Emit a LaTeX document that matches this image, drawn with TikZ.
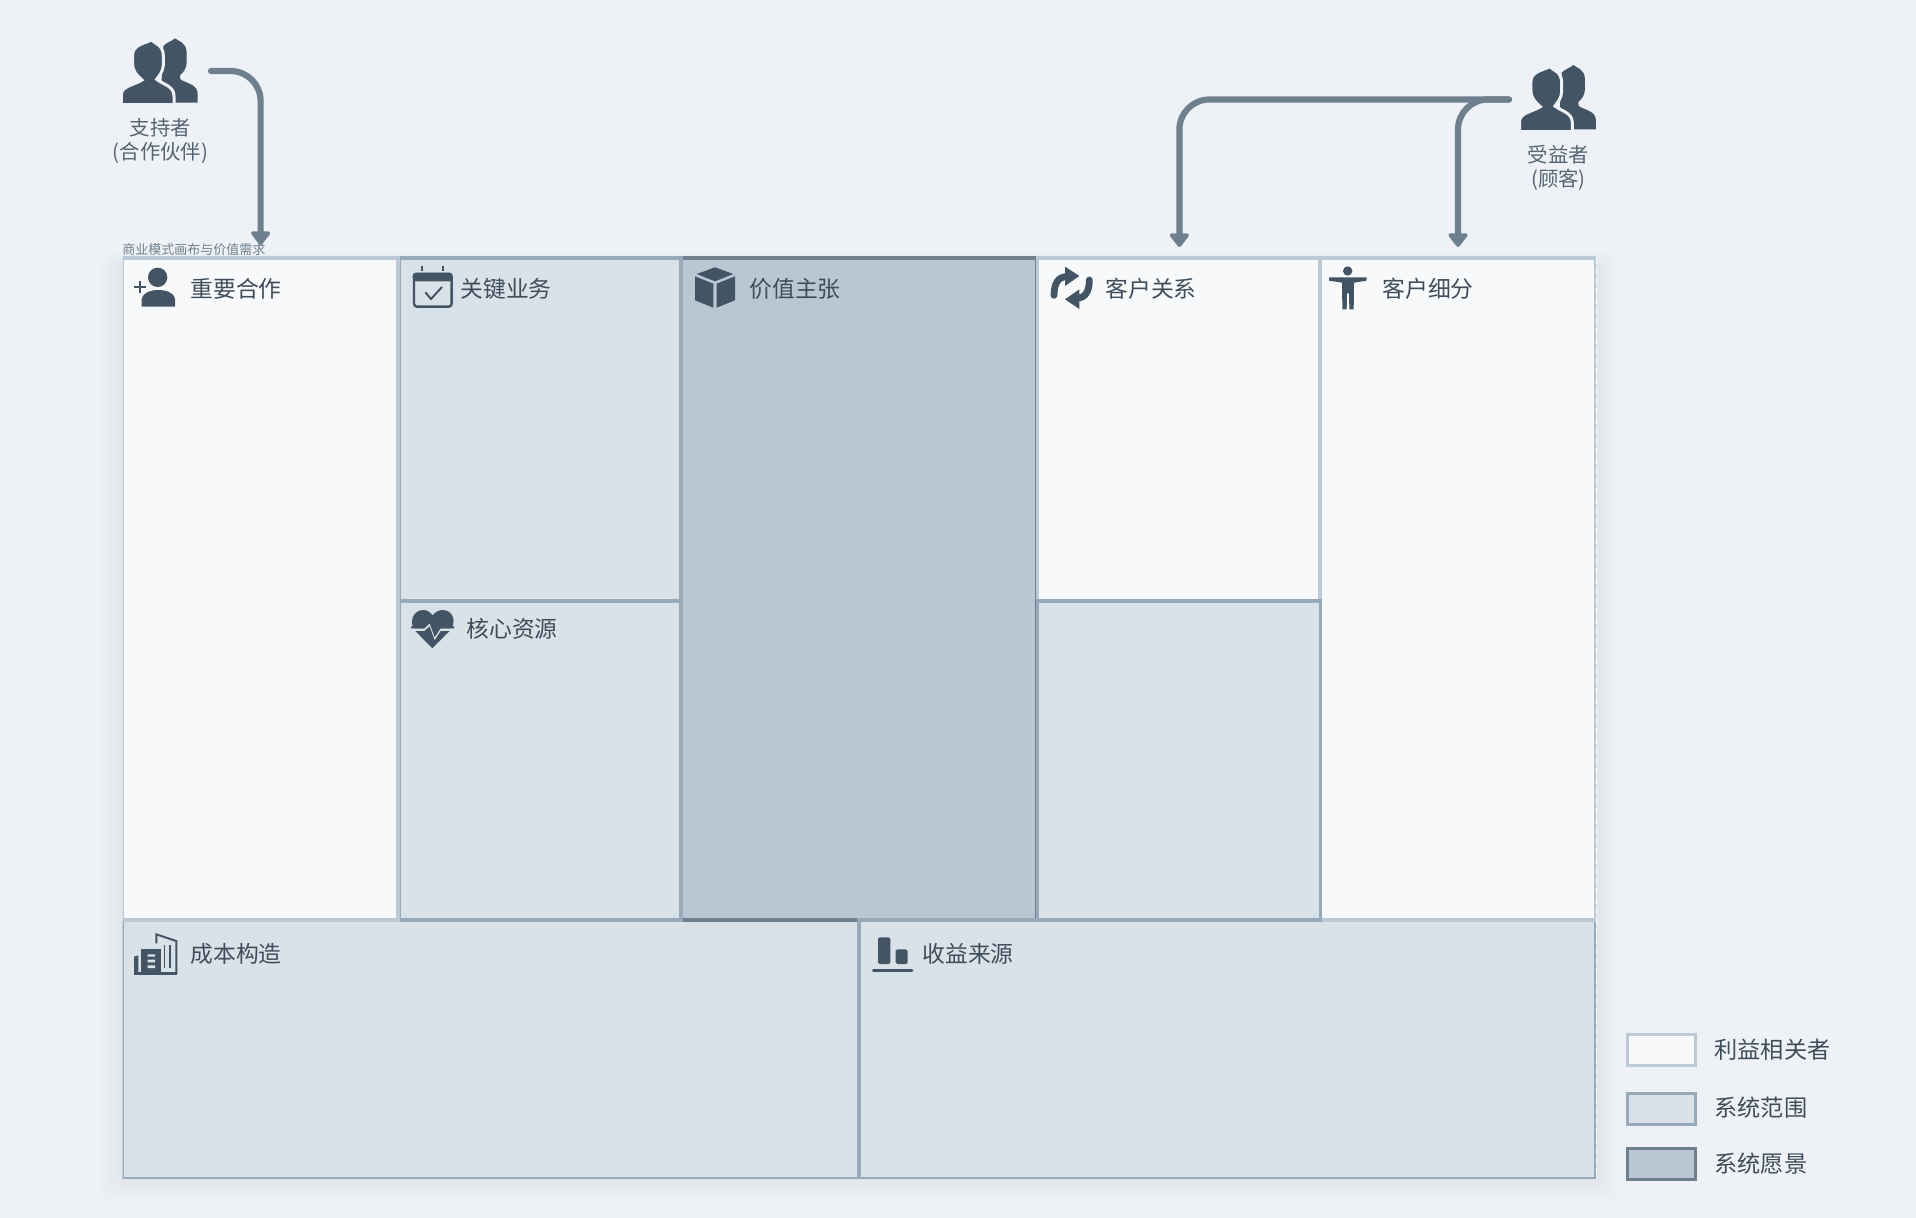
\documentclass[tikz,border=0pt]{standalone}
\usepackage{fontspec}
\setmainfont{Noto Sans CJK SC}
\usetikzlibrary{calc,arrows.meta}
\definecolor{bgc}{HTML}{EEF2F7}
\definecolor{lightf}{HTML}{F7F9FB}
\definecolor{lightd}{HTML}{BCC9D6}
\definecolor{midf}{HTML}{DAE2E9}
\definecolor{midd}{HTML}{98A9B9}
\definecolor{darkf}{HTML}{BAC7D3}
\definecolor{darkd}{HTML}{6E7F8E}
\definecolor{iconc}{HTML}{435464}
\definecolor{textc}{HTML}{3F4D5B}
\definecolor{subc}{HTML}{566573}
\tikzset{
  cellbox/.style={anchor=north west,inner sep=0pt,outer sep=0pt,line width=1.6pt},
  stakecell/.style={cellbox,draw=lightd,fill=lightf},
  scopecell/.style={cellbox,draw=midd,fill=midf},
  visioncell/.style={cellbox,draw=darkd,fill=darkf},
  celltitle/.style={anchor=west,inner sep=0pt,text=textc,font=\fontsize{11.4pt}{13pt}\selectfont},
  legendtitle/.style={celltitle,font=\fontsize{11.6pt}{13pt}\selectfont},
  actorlabel/.style={anchor=center,inner sep=0pt,text=subc,align=center,font=\fontsize{10.2pt}{12pt}\selectfont},
  flow/.style={draw=darkd,line width=3.1pt,line cap=round,rounded corners=15pt,
    -{Triangle[length=7.5pt,width=11pt,round=false]}},
  legendbox/.style={anchor=north west,inner sep=0pt,outer sep=0pt,line width=1.5pt,minimum width=34pt,minimum height=15.5pt},
  zoomed/.style={x=0.16667pt,y=-0.16667pt}
}
\newcommand{\actoricon}{%
  \fill[iconc] (190,78) .. controls (202,66) and (215,64) .. (225,55) .. controls (235,64) and (259,66) .. (260,98) -- (260,128) .. controls (259,146) and (250,158) .. (240,166) -- (241,178) .. controls (258,190) and (293,192) .. (293,222) -- (293,248) -- (225,248) -- (185,180) -- cycle;
  \filldraw[fill=iconc,draw=bgc,line width=1.5pt] (64,252) -- (64,222) .. controls (66,198) and (105,194) .. (126,180) .. controls (110,165) and (98,155) .. (98,130) -- (98,105) .. controls (98,76) and (128,72) .. (155,60) .. controls (165,72) and (190,74) .. (190,108) -- (190,135) .. controls (190,155) and (175,170) .. (170,178) .. controls (190,194) and (222,198) .. (222,228) -- (222,255) -- (60,255) -- cycle;
  \fill[bgc] (55,249) rectangle (300,262);
}
\begin{document}
\begin{tikzpicture}[x=0.5pt,y=-0.5pt]
\useasboundingbox (0,0) rectangle (1916,1218);
\fill[bgc] (0,0) rectangle (1916,1218);

% soft shadow round the canvas
\foreach \e in {1,3,...,23} {
  \fill[darkd,opacity=0.004,rounded corners=5pt] (122-\e,262-0.4*\e) rectangle (1596+\e,1179+\e);
}

\begin{scope}
\clip (122.6,256.6) rectangle (1595.8,1178.8);
\node[scopecell,minimum width=368.5pt,minimum height=129.5pt] (co) at (122,920) {};
\node[visioncell,minimum width=178pt,minimum height=331pt] (vp) at (681,258) {};
\node[scopecell,minimum width=368.5pt,minimum height=129.5pt] (rv) at (859,920) {};
\node[scopecell,minimum width=141pt,minimum height=171.5pt] (ka) at (399,258) {};
\node[scopecell,minimum width=141pt,minimum height=159.5pt] (kr) at (399,601) {};
\node[stakecell,minimum width=138pt,minimum height=331pt] (kp) at (122,258) {};
\node[stakecell,minimum width=141.5pt,minimum height=171.5pt] (cr) at (1037.5,258) {};
\node[stakecell,minimum width=138pt,minimum height=331pt] (cs) at (1320,258) {};
\node[scopecell,minimum width=141.5pt,minimum height=159.5pt] (ch) at (1037.5,601) {};
\end{scope}
% edge of the canvas on the right
\draw[white,line width=0.7pt,dash pattern=on 3pt off 2pt] (1596.6,258) -- (1596.6,1178);

\node[anchor=west,inner sep=0pt,text=darkd,font=\fontsize{6.5pt}{8pt}\selectfont] (cap) at (122,250) {商业模式画布与价值需求};

% titles
\node[celltitle] (tkp) at (190,289) {重要合作};
\node[celltitle] (tka) at (460,289) {关键业务};
\node[celltitle] (tvp) at (749,289) {价值主张};
\node[celltitle] (tcr) at (1105,289) {客户关系};
\node[celltitle] (tcs) at (1382,289) {客户细分};
\node[celltitle] (tkr) at (466,629) {核心资源};
\node[celltitle] (tco) at (190,954) {成本构造};
\node[celltitle] (trv) at (922,954) {收益来源};

% actors
\begin{scope}[shift={(100,20)},zoomed] \actoricon \end{scope}
\begin{scope}[shift={(1498.3,46.7)},zoomed] \actoricon \end{scope}
\node[actorlabel] (sup) at (160.5,128) {支持者};
\node[actorlabel] (supb) at (160.5,153) {(合作伙伴)};
\node[actorlabel] (ben) at (1558.5,155) {受益者};
\node[actorlabel] (benb) at (1558.5,180) {(顾客)};

% connectors
\coordinate (supout) at (211,71);
\coordinate (benout) at (1509,99.5);
\coordinate (kptip) at ($(kp.north)+(0.6,-13)$);
\coordinate (crtip) at ($(cr.north)+(0.4,-11)$);
\coordinate (cstip) at ($(cs.north)+(0,-11)$);
\draw[flow] (supout) -| (kptip);
\draw[flow] (benout) -| (crtip);
\draw[flow] (benout) -| (cstip);

% person plus
\begin{scope}[shift={(100,20)},zoomed]
  \fill[iconc] (173,772) circle[radius=29];
  \fill[iconc] (125,860) -- (125,838) .. controls (130,815) and (155,810) .. (175,810) .. controls (195,810) and (222,815) .. (225,838) -- (225,860) -- cycle;
  \draw[iconc,line width=1.1pt] (102,800) -- (138,800) (120,782) -- (120,818);
\end{scope}
% calendar and cube
\begin{scope}[shift={(400,240)},zoomed]
  \draw[iconc,line width=1.2pt,rounded corners=1.5pt,fill=midf] (42,102) rectangle (155,200);
  \fill[iconc,rounded corners=1.5pt] (38,98) -- (158,98) -- (158,124) -- (38,124) -- cycle;
  \draw[iconc,line width=1.1pt] (65,78) -- (65,94) (130,78) -- (130,94);
  \draw[iconc,line width=1pt] (76,157) -- (93,177) -- (126,141);
  \fill[iconc] (945,82) -- (1000,102) -- (945,124) -- (890,102) -- cycle;
  \fill[iconc] (885,109) -- (940,131) -- (940,203) -- (885,181) -- cycle;
  \fill[iconc] (1005,109) -- (950,131) -- (950,203) -- (1005,181) -- cycle;
\end{scope}
% cycle and standing person
\begin{scope}[shift={(1030,240)},zoomed]
  \draw[iconc,line width=3.4pt,line cap=round] (110,110) .. controls (85,110) and (72,130) .. (72,166);
  \fill[iconc] (105,80) -- (148,108) -- (105,138) -- cycle;
  \draw[iconc,line width=3.4pt,line cap=round] (142,174) .. controls (165,174) and (178,155) .. (178,120);
  \fill[iconc] (148,207) -- (105,178) -- (148,148) -- cycle;
  \fill[iconc] (953,93) circle[radius=14];
  \fill[iconc] (897,112) -- (1010,112) -- (1010,122) -- (972,128) -- (971,208) -- (958,208) -- (957,160) -- (951,160) -- (950,208) -- (937,208) -- (936,128) -- (897,122) -- cycle;
\end{scope}
% heart
\begin{scope}[shift={(400,590)},zoomed]
  \fill[iconc] (97,175) -- (45,122) .. controls (25,95) and (40,60) .. (70,60) .. controls (82,60) and (92,68) .. (98,76) .. controls (104,68) and (114,60) .. (128,60) .. controls (158,60) and (172,95) .. (150,122) -- cycle;
  \draw[midf,line width=1.2pt] (30,119) -- (72,119) -- (90,102) -- (105,142) -- (120,119) -- (168,119);
  \draw[iconc,line width=1pt] (33,112) -- (72,112) -- (90,95) -- (105,135) -- (120,112) -- (163,112);
\end{scope}
% buildings
\begin{scope}[shift={(120,900)},zoomed]
  \draw[iconc,line width=1pt] (109,130) -- (109,103) -- (169,123) -- (169,222);
  \draw[iconc,line width=0.8pt] (133,135) -- (133,205) (150,135) -- (150,205);
  \fill[iconc] (62,148) -- (122,148) -- (122,224) -- (62,224) -- cycle;
  \fill[iconc] (42,170) -- (55,166) -- (55,224) -- (42,224) -- cycle;
  \fill[iconc] (42,215) rectangle (172,224);
  \fill[midf] (83,163) rectangle (105,170) (83,179) rectangle (105,187) (83,196) rectangle (105,204);
\end{scope}
% bars
\begin{scope}[shift={(840,900)},zoomed]
  \fill[iconc,rounded corners=0.8pt] (114,112) rectangle (151,192);
  \fill[iconc,rounded corners=0.8pt] (167,148) rectangle (203,192);
  \draw[iconc,line width=1.3pt,line cap=round] (100,212) -- (216,212);
\end{scope}

% legend
\node[legendbox,draw=lightd,fill=lightf] (l1) at (1627.2,1034.2) {};
\node[legendbox,draw=midd,fill=midf] (l2) at (1627.2,1093.2) {};
\node[legendbox,draw=darkd,fill=darkf] (l3) at (1627.2,1148.2) {};
\node[legendtitle] (lt1) at (1714,1050) {利益相关者};
\node[legendtitle] (lt2) at (1714,1108) {系统范围};
\node[legendtitle] (lt3) at (1714,1164) {系统愿景};
\end{tikzpicture}
\end{document}
